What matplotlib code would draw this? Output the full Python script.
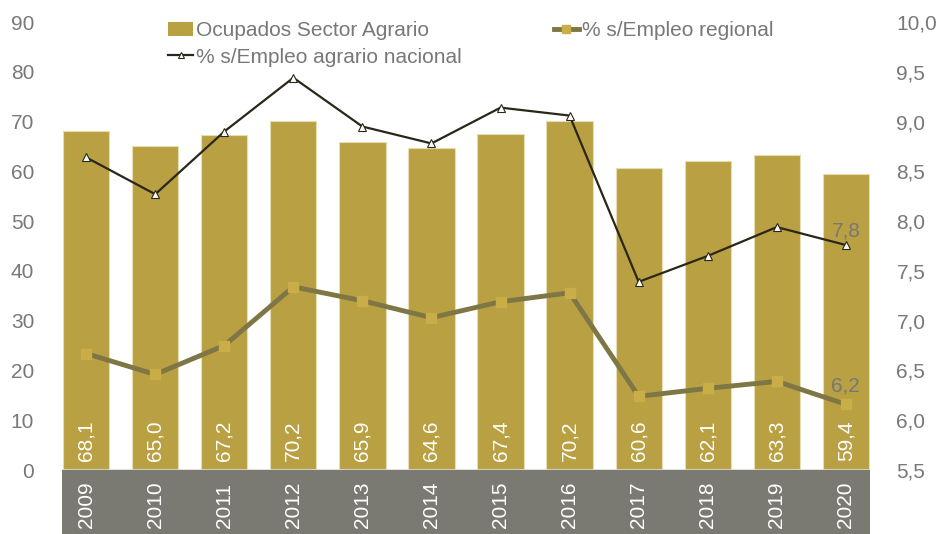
import matplotlib
matplotlib.use("Agg")
import matplotlib.pyplot as plt
from matplotlib.patches import Rectangle
from matplotlib.lines import Line2D
from matplotlib.transforms import blended_transform_factory

plt.rcParams['font.family'] = ['Liberation Sans', 'DejaVu Sans']

years = ['2009', '2010', '2011', '2012', '2013', '2014', '2015', '2016', '2017', '2018', '2019', '2020']
ocupados = [68.1, 65.0, 67.2, 70.2, 65.9, 64.6, 67.4, 70.2, 60.6, 62.1, 63.3, 59.4]
pct_regional = [6.67, 6.46, 6.75, 7.34, 7.20, 7.03, 7.19, 7.28, 6.24, 6.32, 6.39, 6.16]
pct_nacional = [8.64, 8.27, 8.90, 9.44, 8.95, 8.78, 9.14, 9.06, 7.39, 7.65, 7.94, 7.76]
left_ticks = [0, 10, 20, 30, 40, 50, 60, 70, 80, 90]
right_ticks = [5.5, 6.0, 6.5, 7.0, 7.5, 8.0, 8.5, 9.0, 9.5, 10.0]

BAR = '#B9A043'
REG_LINE = '#7F7646'
REG_MK = '#C9AE48'
NAT = '#2A2718'
TXT = '#787878'
BAND = '#7A7A72'
FS = 15

W, H = 937, 534
fig = plt.figure(figsize=(W / 100, H / 100), dpi=100)
x0, x1, ytop, ybot = 62, 870, 22, 470
ax = fig.add_axes([x0 / W, 1 - ybot / H, (x1 - x0) / W, (ybot - ytop) / H])
ax2 = ax.twinx()

xs = list(range(len(years)))
bw = 0.67
ax.bar(xs, ocupados, width=bw, color=BAR, edgecolor='#E8DDB0', linewidth=0.8, zorder=2)
pad_x = bw / 2 + 0.015
ax.set_xlim(-pad_x, len(years) - 1 + pad_x)
ax.set_ylim(0, 90)
ax.set_yticks(left_ticks)
ax.set_yticklabels([str(t) for t in left_ticks])
ax2.set_ylim(5.5, 10.0)
ax2.set_yticks(right_ticks)
ax2.set_yticklabels([f'{t:.1f}'.replace('.', ',') for t in right_ticks])

for a in (ax, ax2):
    for s in a.spines.values():
        s.set_visible(False)
    a.tick_params(axis='y', length=0, labelsize=FS, colors=TXT)
ax.tick_params(axis='y', pad=20)
ax2.tick_params(axis='y', pad=19)
ax.set_xticks([])

# value labels inside bars
for xi, v in zip(xs, ocupados):
    ax.text(xi, 1.8, f'{v:.1f}'.replace('.', ','), rotation=90, ha='center', va='bottom',
            color='white', fontsize=FS, zorder=5)

# gray band with year labels
tr = blended_transform_factory(ax.transData, fig.transFigure)
ax.add_patch(Rectangle((-pad_x, 0), len(years) - 1 + 2 * pad_x, (H - ybot) / H, transform=tr,
                       facecolor=BAND, edgecolor='none', clip_on=False, zorder=1))
ax.axhline(0, color='#D9D9D9', linewidth=1.2, zorder=3)
for xi, y in zip(xs, years):
    ax.text(xi, (H - 528) / H, y, transform=tr, rotation=90, ha='center', va='bottom',
            color='white', fontsize=FS, zorder=5)

# lines
ax2.plot(xs, pct_regional, color=REG_LINE, linewidth=3.5, marker='s', markersize=7,
         markerfacecolor=REG_MK, markeredgecolor=REG_MK, zorder=4)
ax2.plot(xs, pct_nacional, color=NAT, linewidth=1.6, marker='^', markersize=6,
         markerfacecolor='white', markeredgecolor=NAT, markeredgewidth=0.8, zorder=5)
ax2.text(xs[-1], pct_nacional[-1] + 0.05, f'{pct_nacional[-1]:.1f}'.replace('.', ','),
         color=TXT, fontsize=FS, ha='center', va='bottom')
ax2.text(xs[-1], pct_regional[-1] + 0.09, f'{pct_regional[-1]:.1f}'.replace('.', ','),
         color=TXT, fontsize=FS, ha='center', va='bottom')
ax.set_zorder(1)
ax2.set_zorder(2)
ax2.patch.set_visible(False)

h_bar = Rectangle((0, 0), 1, 1, facecolor=BAR, edgecolor='none')
h_reg = Line2D([], [], color=REG_LINE, linewidth=3.5, marker='s', markersize=6,
               markerfacecolor=REG_MK, markeredgecolor=REG_MK)
h_nat = Line2D([], [], color=NAT, linewidth=1.6, marker='^', markersize=5,
               markerfacecolor='white', markeredgecolor=NAT, markeredgewidth=0.8)
fig.legend([h_bar, h_nat, h_reg],
           ['Ocupados Sector Agrario', '% s/Empleo agrario nacional', '% s/Empleo regional'],
           ncol=2, loc='upper left', bbox_to_anchor=(160 / W, 1 - 13 / H), frameon=False,
           fontsize=FS, labelcolor=TXT, handlelength=1.2, handleheight=0.7, handletextpad=0.15,
           columnspacing=4.4, labelspacing=0.35, borderaxespad=0)

fig.savefig('out.png', dpi=100)
